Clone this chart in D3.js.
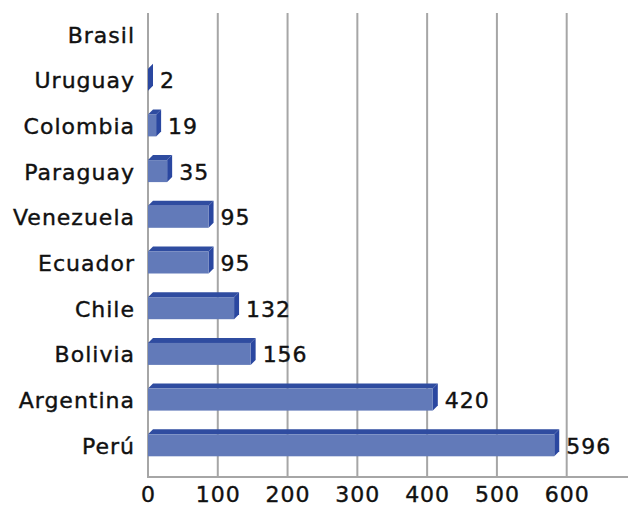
<!DOCTYPE html>
<html><head><meta charset="utf-8">
<script src="https://cdn.jsdelivr.net/npm/d3@7"></script>
<style>body{margin:0;background:#fff}text{font-family:"DejaVu Sans",sans-serif;fill:#111;stroke:#111;stroke-width:0.4px;letter-spacing:1px}</style>
</head><body><svg id="c" width="630" height="506"></svg>
<script>
const categories = ["Brasil","Uruguay","Colombia","Paraguay","Venezuela","Ecuador","Chile","Bolivia","Argentina","Perú"];
const values = [null,2,19,35,95,95,132,156,420,596];
const tickValues = [0,100,200,300,400,500,600];

(function(){
const svg = d3.select("#c");
const x0 = 148, x600 = 566.7;
const depth = 5;
const x = d3.scaleLinear().domain([0,600]).range([x0, x600]);
// bar front-face end (3D bars are drawn slightly shorter than the gridline scale)
const xBar = d3.scaleLinear().domain([0,600]).range([x0 - depth, x0 - depth + 414]);
const y = d3.scalePoint().domain(categories).range([36, 447.3]);
const plotTop = 13, plotBottom = 477, plotRight = 628;
const fs = 22;

svg.append("g").selectAll("line").data(tickValues.slice(1)).join("line")
  .attr("x1", d=>x(d)).attr("x2", d=>x(d)).attr("y1", plotTop).attr("y2", plotBottom)
  .attr("stroke","#a6a6a6").attr("stroke-width",2);
svg.append("line").attr("x1",x0).attr("x2",x0).attr("y1",plotTop).attr("y2",plotBottom).attr("stroke","#a6a6a6").attr("stroke-width",2);
svg.append("line").attr("x1",x0-1).attr("x2",plotRight).attr("y1",plotBottom).attr("y2",plotBottom).attr("stroke","#a6a6a6").attr("stroke-width",2);
svg.append("g").selectAll("text").data(tickValues).join("text")
  .attr("x", d=>x(d)+0.5).attr("y", 502).attr("text-anchor","middle")
  .attr("font-size",fs).text(d=>d);
svg.append("g").selectAll("text").data(categories).join("text")
  .attr("x",135).attr("y",d=>y(d)+6.5).attr("text-anchor","end")
  .attr("font-size",fs).text(d=>d);

const data = categories.map((c,i)=>({c, v: values[i]})).filter(d=>d.v!=null);
const g = svg.append("g");
data.forEach(d=>{
  const cy = y(d.c);
  const xe = Math.max(x0, xBar(d.v));
  const y1 = cy-13, y2 = cy+9;
  g.append("path").attr("d",`M${x0},${y1} L${x0+depth},${y1-depth} L${xe+depth},${y1-depth} L${xe},${y1} Z`).attr("fill","#2f4ca0");
  g.append("path").attr("d",`M${xe},${y1} L${xe+depth},${y1-depth} L${xe+depth},${y2-depth} L${xe},${y2} Z`).attr("fill","#2a47a0");
  g.append("rect").attr("x",x0).attr("y",y1).attr("width",Math.max(0,xe-x0)).attr("height",y2-y1).attr("fill","#627ab9");
  g.append("text").attr("x",xe+depth+7).attr("y",cy+6.5)
    .attr("font-size",fs).text(d.v);
});
})();
</script></body></html>
